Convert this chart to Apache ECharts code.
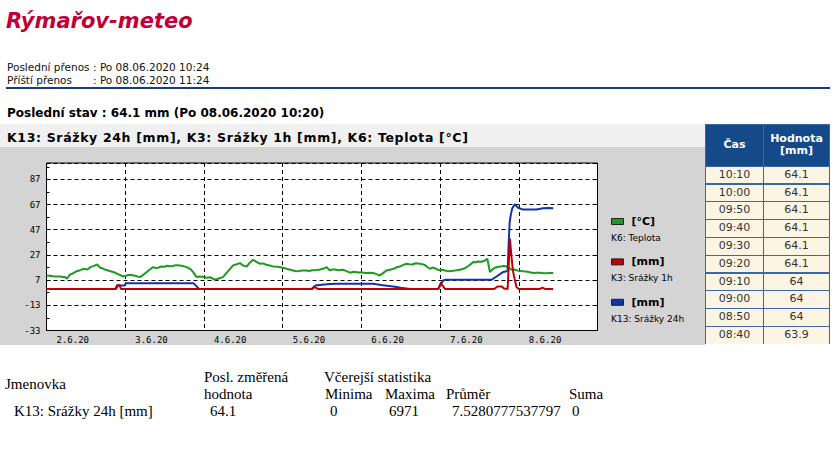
<!DOCTYPE html>
<html><head><meta charset="utf-8">
<script src="https://cdn.jsdelivr.net/npm/echarts@6/dist/echarts.min.js"></script>
<style>
html,body{margin:0;padding:0;background:#fff;width:839px;height:472px;overflow:hidden;}
.a{position:absolute;white-space:nowrap;}
#title{left:6px;top:8.7px;font:italic bold 21px/24px "DejaVu Sans";color:#bf0036;}
.info{font:10.5px/12px "DejaVu Sans";color:#111;}
#rule{left:6px;top:87px;width:824px;height:2px;background:#1b3a78;}
#stav{left:7px;top:106.2px;font:bold 12px/14px "DejaVu Sans";color:#000;}
#hbar{left:0;top:124px;width:705px;height:23px;background:#f0f0f0;}
#htext{left:7px;top:129.9px;font:bold 12.5px/15px "DejaVu Sans";letter-spacing:0.65px;color:#000;}
#chart{position:absolute;left:0;top:147px;width:705px;height:198px;}
#tbl{position:absolute;left:705px;top:124px;width:125px;height:220px;background:#3a68a4;}
.hc{position:absolute;background:#154a8a;color:#fff;font:bold 11px/12.5px "DejaVu Sans";text-align:center;display:flex;align-items:center;justify-content:center;}
.cc{position:absolute;background:#fdf5e4;color:#333;font:11px/16.8px "DejaVu Sans";text-align:center;}
.st{font:15px/14px "Liberation Serif";color:#000;}
</style></head>
<body>
<div id="title" class="a">Rýmařov-meteo</div>
<div class="a info" style="left:7px;top:61.1px">Poslední přenos</div>
<div class="a info" style="left:93px;top:61.1px">: Po 08.06.2020 10:24</div>
<div class="a info" style="left:7px;top:73.7px">Příští přenos</div>
<div class="a info" style="left:93px;top:73.7px">: Po 08.06.2020 11:24</div>
<div id="rule" class="a"></div>
<div id="stav" class="a">Poslední stav : 64.1 mm (Po 08.06.2020 10:20)</div>
<div id="hbar" class="a"></div>
<div id="htext" class="a">K13: Srážky 24h [mm], K3: Srážky 1h [mm], K6: Teplota [°C]</div>
<div id="chart"></div>
<div id="tbl"></div>
<div id="stats"></div>
<script>
// ---------- data ----------
const xTickLabels = ['2.6.20','3.6.20','4.6.20','5.6.20','6.6.20','7.6.20','8.6.20'];
// hours since 2.6.2020 00:00
const tempData = [
 [0,10.7],[1,10.4],[2,10.1],[3,9.9],[4,9.8],[5,9.5],[5.7,9.4],[6.2,8.1],[7.2,11.5],[8,12.3],[9,13.8],[10,14.6],[11.2,16],
 [12.5,15.5],[13.5,17.5],[14.5,18.3],[15.4,19.5],[16.4,16.8],[17.2,16.2],[18,15.2],[19,14.5],[20.3,13.4],[21,12.8],[22,11.5],
 [23.4,9.9],[24.5,10.6],[25.5,11.3],[27,10.5],[28.5,9.4],[29.5,11.2],[30.6,13.4],[31.5,15.4],[32.5,17.3],[33.3,16.6],
 [34,16.8],[35,17.8],[36,17.6],[36.7,18.4],[37.5,18],[38.5,18.2],[39.5,18.9],[40.7,18.7],[41.5,18.2],[42.8,17.3],[44,15.5],
 [44.7,13.4],[45.8,9.4],[46.5,9.9],[47.5,9.6],[48.9,8.9],[50,9.2],[51.4,7.3],[52.5,8.3],[53.8,9.4],[55.5,14.5],[56.9,18.7],
 [58,19.6],[59,20.5],[60,18.5],[61.1,17.9],[62,20.8],[63,23.2],[64,21.5],[65.1,20],[66,20.3],[67,19.2],[68,18.6],[69.1,17.9],
 [70.5,17.6],[72.1,16.8],[73.5,15.8],[75.2,14.7],[76,14.1],[77,14.2],[78,14.6],[79.3,14.7],[80,14.3],[81,14.9],[82.3,15.1],
 [83.4,15.5],[84.5,16.2],[85.4,17.3],[86.4,14.7],[87.2,15.4],[88,15.5],[89,14.8],[90.4,15.2],[91.5,14.1],[92.5,12.9],[93.3,13.4],
 [94,13.6],[95,13],[96.1,13.1],[97.5,12.6],[98.6,12.9],[100,12.4],[100.8,11.6],[101.6,10.7],[102.5,12.4],[103.7,14.7],
 [105,15.5],[106,16.2],[107,17.4],[107.8,17.8],[108.8,19.1],[109.8,20],[110.6,19.7],[111.5,19.4],[112.6,20.4],[113.9,20],
 [114.8,19.5],[115.5,18.8],[116.2,17.2],[116.9,16],[117.6,17],[118.4,16.5],[119.2,15.4],[119.9,14.7],[120.6,15.2],
 [121.5,14.6],[122.2,14.3],[122.9,14.1],[124,14.4],[125,14.8],[126,15.3],[127.1,16],[128,17.2],[128.5,18],[129.3,19.6],
 [130.1,21.3],[131,21.1],[131.5,21.8],[132.6,21.6],[133.7,22.6],[134.4,24],[135.2,13.4],[136,15.6],[136.7,16.8],[137.6,17.4],
 [138.5,17.9],[139.4,18.3],[140.3,17.9],[141.1,16.6],[141.8,15.2],[142.6,15.4],[143.5,14.6],[144.4,14.5],[145.3,14.1],
 [146.2,13.8],[147,13.5],[147.7,13.1],[148.4,12.6],[149.4,12.9],[150.5,12.8],[151.5,12.5],[152.5,12.4],[153.5,12.7],[154.5,12.6]
];
const rain1hData = [
 [0,0],[21,0],[21.5,3],[22.3,3],[22.7,0],[81,0],[81.6,1.6],[82.3,0.6],[83,0],[119.4,0],[120.2,4.6],[121.5,0],
 [136.5,0],[137.5,2],[138.8,2],[139.5,0.4],[140.6,0],[141.3,40],[141.8,25],[142.2,14.7],[142.6,9.4],[143.3,1.5],[144,0],
 [150.5,0],[151.2,1],[152,0],[154.5,0]
];
const rain24hData = [
 [0,0],[21.2,0],[21.8,2.8],[23.8,2.8],[24.2,4.6],[44.8,4.6],[45.5,2.8],[46.5,0],[80.8,0],[82,2.8],[84,3.3],[86.4,3.9],
 [88.5,4.1],[99.6,4.1],[102,3.2],[105.7,2],[108,1],[110.8,0],[119.5,0],[120.3,4.1],[121,6.8],[121.6,7.3],[135.7,7.3],
 [137.2,9.9],[139.2,13.4],[140.3,14.1],[140.6,14.5],[140.9,35],[141.2,52],[141.5,58],[142,64],[142.8,67.2],[143.8,64.5],
 [145.3,63],[147.5,63],[149.4,63.1],[151.4,64],[153,64.2],[154.5,64.1]
];
const seriesNames = ['K6: Teplota','K13: Srážky 24h','K3: Srážky 1h'];
const seriesColors = ['#1e9a1e','#1232a8','#c00000'];
const legendUnits = ['[°C]','[mm]','[mm]'];
const legendNames = ['K6: Teplota','K3: Srážky 1h','K13: Srážky 24h'];
const legendColors = ['#1e9a1e','#c00000','#1232a8'];
const tableHeaders = ['Čas','Hodnota<br>[mm]'];
const tableTimes = ['10:10','10:00','09:50','09:40','09:30','09:20','09:10','09:00','08:50','08:40'];
const tableValues = ['64.1','64.1','64.1','64.1','64.1','64.1','64','64','64','63.9'];
const statName = 'K13: Srážky 24h [mm]';
const statLast = '64.1';
const statMin = '0', statMax = '6971', statAvg = '7.5280777537797', statSum = '0';

// ---------- right table ----------
const tbl = document.getElementById('tbl');
function cell(cls, l, t, w, h, html){ const d=document.createElement('div'); d.className=cls; d.style.left=l+'px'; d.style.top=t+'px'; d.style.width=w+'px'; d.style.height=h+'px'; d.innerHTML=html; tbl.appendChild(d); }
cell('hc',1,1,57,40.7,tableHeaders[0]);
cell('hc',59,1,65,40.7,tableHeaders[1]);
tableTimes.forEach((t,i)=>{
  const top = 41.7 + i*17.8 + 1;
  cell('cc',1,top,57,16.8,t);
  cell('cc',59,top,65,16.8,tableValues[i]);
});

// ---------- bottom stats ----------
const st = document.getElementById('stats');
function txt(l, t, s){ const d=document.createElement('div'); d.className='a st'; d.style.left=l+'px'; d.style.top=t+'px'; d.textContent=s; st.appendChild(d); }
txt(5,376.9,'Jmenovka');
txt(204,369.9,'Posl. změřená');
txt(204,386.9,'hodnota');
txt(324,369.9,'Včerejší statistika');
txt(325,386.9,'Minima');
txt(385,386.9,'Maxima');
txt(446,386.9,'Průměr');
txt(569,386.9,'Suma');
txt(14,404.4,statName);
txt(210,404.4,statLast);
txt(330,404.4,statMin);
txt(389,404.4,statMax);
txt(452,404.4,statAvg);
txt(572,404.4,statSum);

// ---------- chart ----------
const chart = echarts.init(document.getElementById('chart'), null, {renderer:'svg', width:705, height:198});
const axisFont = {fontFamily:'DejaVu Sans Mono', fontSize:9, color:'#000'};
const dash = {color:'#000', width:1, type:[4,3]};
const graphics = [];
legendUnits.forEach((u,i)=>{
  const dy = i*40.4;
  graphics.push({type:'rect', shape:{x:611.5, y:71.5+dy, width:12, height:6}, style:{fill:legendColors[i], stroke:'#222', lineWidth:1}});
  graphics.push({type:'text', x:631.5, y:74.5+dy, style:{text:u, font:'bold 11px "DejaVu Sans"', fill:'#000', verticalAlign:'middle', align:'left'}});
  graphics.push({type:'text', x:611, y:91+dy, style:{text:legendNames[i], font:'9px "DejaVu Sans"', fill:'#000', verticalAlign:'middle', align:'left'}});
});
chart.setOption({
  animation:false,
  backgroundColor:'#d4d4d4',
  grid:{left:46.5, top:16, right:107.5, bottom:14.5, show:true, backgroundColor:'#fff', borderColor:'#000', borderWidth:1},
  xAxis:{type:'value', min:0, max:168, interval:24,
    axisLine:{show:false}, axisTick:{show:false},
    splitLine:{show:true, lineStyle:dash},
    axisLabel:Object.assign({margin:5, align:'left', padding:[0,0,0,10], showMaxLabel:false,
      formatter:v=>{const i=Math.round(v/24); return (Math.abs(v-i*24)<1e-6 && i<xTickLabels.length)?xTickLabels[i]:'';}}, axisFont)},
  yAxis:[
    {type:'value', min:-33, max:100, interval:20,
      axisLine:{show:false},
      axisTick:{show:true, inside:true, length:4, lineStyle:{color:'#000'}},
      minorTick:{show:true, splitNumber:2, length:3, lineStyle:{color:'#000'}},
      splitLine:{show:true, lineStyle:dash},
      axisLabel:Object.assign({margin:6, showMaxLabel:false, formatter:v=>(v>=100?'':String(v))}, axisFont)},
    {type:'value', position:'right', min:-33, max:100, interval:20,
      axisLine:{show:false},
      axisTick:{show:true, inside:true, length:4, lineStyle:{color:'#000'}},
      axisLabel:{show:false}, splitLine:{show:false}}
  ],
  series:[
    {name:seriesNames[0], type:'line', data:tempData, showSymbol:false, lineStyle:{width:2, color:seriesColors[0]}, itemStyle:{color:seriesColors[0]}},
    {name:seriesNames[1], type:'line', data:rain24hData, showSymbol:false, lineStyle:{width:2, color:seriesColors[1]}, itemStyle:{color:seriesColors[1]}},
    {name:seriesNames[2], type:'line', data:rain1hData, showSymbol:false, lineStyle:{width:2, color:seriesColors[2]}, itemStyle:{color:seriesColors[2]}}
  ],
  graphic:graphics
});
</script>
</body></html>
